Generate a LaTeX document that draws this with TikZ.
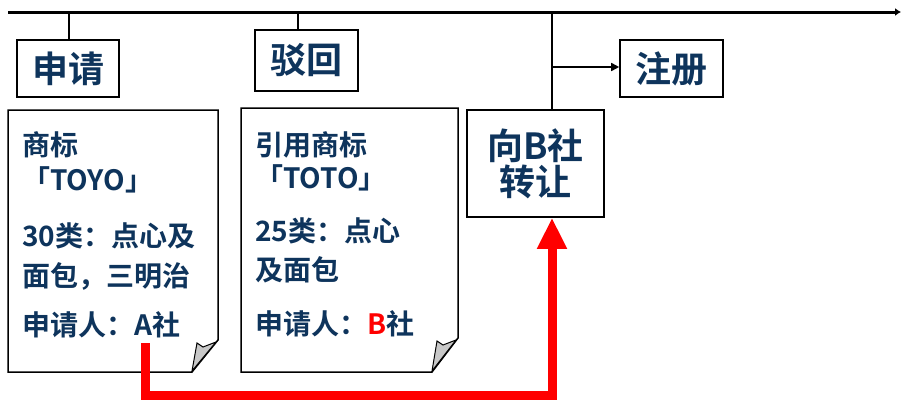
\documentclass[tikz,border=0pt]{standalone}
\usepackage{fontspec}
\newfontfamily\cjk[BoldFont={Noto Sans CJK SC Bold}]{Noto Sans CJK SC}
\usetikzlibrary{arrows.meta}
\definecolor{navy}{RGB}{14,52,92}
\definecolor{redline}{RGB}{255,0,0}
\definecolor{foldgray}{RGB}{200,200,200}
\begin{document}
\begin{tikzpicture}[x=1pt,y=-1pt,
  box/.style={draw=black,line width=1.6pt,inner sep=0pt,font=\cjk\bfseries\fontsize{36}{40}\selectfont,text=navy,align=center},
  doctext/.style={anchor=west,inner sep=0pt,font=\cjk\bfseries\fontsize{28}{32}\selectfont,text=navy},
  docshape/.style={draw=black,line width=1.5pt,fill=white},
  fold/.style={draw=black,line width=1pt,fill=foldgray},
  thin/.style={draw=black,line width=1.6pt}]
\useasboundingbox (0,0) rectangle (901,400);
% timeline
\coordinate (tl) at (8,12);
\coordinate (tr) at (901,12);
\draw[line width=3pt,-{Latex[length=6pt,width=8pt]}] (tl) -- (tr);
% boxes
\node[box,minimum width=102pt,minimum height=57pt] (shenqing) at (68,68.5) {申请};
\node[box,minimum width=103pt,minimum height=61pt] (bohui) at (306.5,60.5) {驳回};
\node[box,minimum width=137pt,minimum height=107pt] (zhuanrang) at (535.5,163.5) {向B社\\[-4pt]转让};
\node[box,minimum width=103pt,minimum height=57pt] (zhuce) at (671.5,68.5) {注册};
% connectors from timeline
\coordinate (t1) at (69,12);
\coordinate (t2) at (298,12);
\coordinate (t3) at (552,12);
\coordinate (br) at (552,67);
\draw[thin] (t1) -- (t1 |- shenqing.north);
\draw[thin] (t2) -- (t2 |- bohui.north);
\draw[thin] (t3) -- (t3 |- zhuanrang.north);
\draw[thin,-{Triangle[length=8pt,width=8pt]}] (br) -- (br -| zhuce.west);
% document 1
\draw[docshape] (8,110) -- (218,110) -- (218,340) -- (192,372) -- (8,372) -- cycle;
\draw[fold] (192,371) -- (197,343) -- (203,347) -- (216,342) -- cycle;
\node[doctext] (d1a) at (22,145) {商标};
\node[doctext] (d1b) at (22,180) {「TOYO」};
\node[doctext] (d1c) at (22,236) {30类：点心及};
\node[doctext] (d1d) at (22,276) {面包，三明治};
\node[doctext] (d1e) at (22,325) {申请人：A社};
% document 2
\draw[docshape] (241,108) -- (458,108) -- (458,338) -- (432,372) -- (241,372) -- cycle;
\draw[fold] (432,371) -- (437,341) -- (443,345) -- (456,340) -- cycle;
\node[doctext] (d2a) at (255,145) {引用商标};
\node[doctext] (d2b) at (255,178) {「TOTO」};
\node[doctext] (d2c) at (255,231) {25类：点心};
\node[doctext] (d2d) at (255,270) {及面包};
\node[doctext] (d2e) at (255,324) {申请人：\textcolor{redline}{B}社};
% red transfer arrow
\coordinate (astart) at (145,343);
\coordinate (redturn) at (552,395);
\draw[draw=redline,line width=9pt,line join=miter,-{Triangle[length=31pt,width=28pt]}]
  (astart) |- (redturn) -- (redturn |- zhuanrang.south);
\end{tikzpicture}
\end{document}
